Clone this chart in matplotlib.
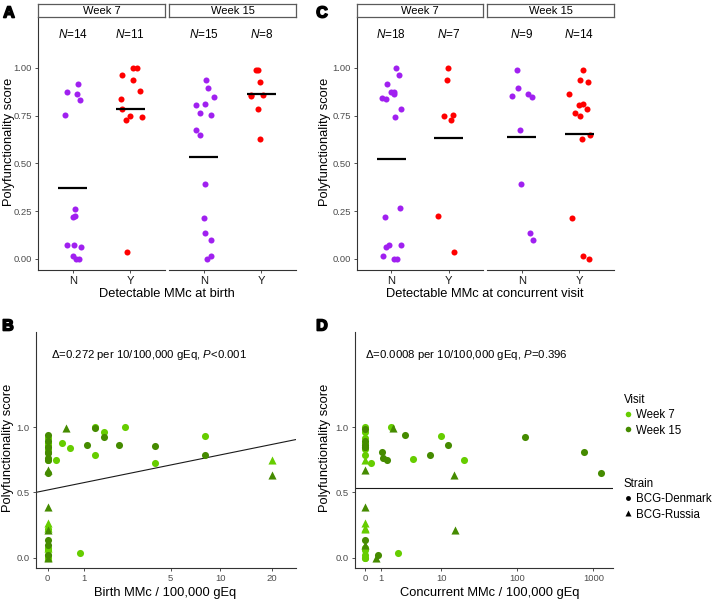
import numpy as np
import matplotlib
matplotlib.use('Agg')
import matplotlib.pyplot as plt
from matplotlib.lines import Line2D
import matplotlib.patheffects as pe

plt.rcParams['font.family'] = ['Liberation Sans', 'DejaVu Sans']
plt.rcParams['mathtext.fontset'] = 'custom'
plt.rcParams['mathtext.it'] = 'Liberation Sans:italic'
plt.rcParams['mathtext.rm'] = 'Liberation Sans'

# ---------------- data ----------------
categories = ['N', 'Y']
visits = ['Week 7', 'Week 15']

# Panel A (detectable MMc at birth): values and horizontal jitter offsets
a_w7_n_y = [0.916, 0.875, 0.864, 0.833, 0.751, 0.263, 0.225, 0.220, 0.071, 0.071, 0.061, 0.017, 0.002, 0.0]
a_w7_n_j = [0.087, -0.104, 0.069, 0.133, -0.127, 0.046, 0.040, 0.0, -0.104, 0.023, 0.139, 0.012, 0.064, 0.110]
a_w7_y_y = [1.0, 1.0, 0.962, 0.934, 0.876, 0.838, 0.784, 0.749, 0.744, 0.725, 0.035]
a_w7_y_j = [0.040, 0.110, -0.144, 0.052, 0.167, -0.156, -0.144, -0.012, 0.196, -0.069, -0.058]
a_w15_n_y = [0.936, 0.894, 0.848, 0.803, 0.812, 0.765, 0.751, 0.674, 0.650, 0.390, 0.213, 0.136, 0.098, 0.017, 0.0]
a_w15_n_j = [0.035, 0.081, 0.185, -0.127, 0.023, -0.069, 0.121, -0.139, -0.058, 0.023, 0.0, 0.029, 0.121, 0.133, 0.064]
a_w15_y_y = [0.990, 0.990, 0.923, 0.859, 0.850, 0.859, 0.782, 0.629]
a_w15_y_j = [-0.092, -0.058, -0.017, -0.185, -0.173, 0.029, -0.052, -0.017]

# Panel C (detectable MMc at concurrent visit)
c_w7_n_y = [1.0, 0.962, 0.916, 0.875, 0.875, 0.864, 0.840, 0.834, 0.784, 0.744, 0.265, 0.220, 0.071, 0.061, 0.071, 0.017, 0.0, 0.0]
c_w7_n_j = [0.087, 0.127, -0.075, -0.012, 0.040, 0.052, -0.156, -0.098, 0.162, 0.064, 0.150, -0.104, -0.035, -0.087, 0.167, -0.139, 0.046, 0.098]
c_w7_y_y = [1.0, 0.934, 0.749, 0.753, 0.725, 0.225, 0.035]
c_w7_y_j = [-0.017, -0.023, -0.081, 0.069, 0.046, -0.179, 0.092]
c_w15_n_y = [0.986, 0.895, 0.850, 0.861, 0.848, 0.672, 0.390, 0.134, 0.099]
c_w15_n_j = [-0.087, -0.058, -0.173, 0.110, 0.185, -0.029, -0.017, 0.139, 0.191]
c_w15_y_y = [0.990, 0.936, 0.923, 0.862, 0.812, 0.805, 0.784, 0.765, 0.749, 0.650, 0.629, 0.213, 0.017, 0.0]
c_w15_y_j = [0.058, 0.012, 0.144, -0.179, 0.058, -0.006, 0.139, -0.081, 0.017, 0.185, 0.052, -0.121, 0.058, 0.173]

# Panel B (birth MMc per 100,000 gEq)
b_w7_x = [0, 0, 0, 0, 0, 0, 0, 0, 0, 0, 0, 0, 0, 0,
          2.47, 1.35, 1.67, 8.08, 0.395, 0.605, 1.35, 0.223, 20, 3.96, 0.893]
b_w7_y = [0.916, 0.875, 0.864, 0.833, 0.751, 0.263, 0.225, 0.220, 0.071, 0.071, 0.061, 0.017, 0.002, 0.0,
          1.0, 1.0, 0.962, 0.934, 0.876, 0.838, 0.784, 0.749, 0.744, 0.725, 0.035]
b_w7_s = ['D', 'D', 'D', 'D', 'D', 'R', 'R', 'D', 'R', 'D', 'D', 'D', 'R', 'D',
          'D', 'D', 'D', 'D', 'D', 'D', 'D', 'D', 'R', 'D', 'D']
b_w15_x = [0, 0, 0, 0, 0, 0, 0, 0, 0, 0, 0, 0, 0, 0, 0,
           0.486, 1.35, 1.67, 1.10, 2.21, 3.96, 8.08, 20]
b_w15_y = [0.936, 0.894, 0.848, 0.803, 0.812, 0.765, 0.751, 0.674, 0.650, 0.390, 0.213, 0.136, 0.098, 0.017, 0.0,
           0.990, 0.990, 0.923, 0.865, 0.862, 0.855, 0.783, 0.629]
b_w15_s = ['D', 'D', 'D', 'D', 'D', 'D', 'D', 'R', 'D', 'R', 'R', 'D', 'D', 'D', 'R',
           'R', 'D', 'D', 'D', 'D', 'D', 'D', 'R']
b_intercept, b_slope = 0.518, 0.1162   # fitted line (on pseudo-log axis)
b_xticks = [0, 1, 5, 10, 20]

# Panel D (concurrent MMc per 100,000 gEq)
d_w7_x = [0] * 18 + [1.72, 9.95, 4.1, 19.8, 0.365, 0.03, 2.3]
d_w7_y = [1.0, 0.962, 0.916, 0.875, 0.875, 0.864, 0.840, 0.834, 0.784, 0.744, 0.265, 0.220, 0.071, 0.061, 0.071, 0.017, 0.0, 0.0,
          1.0, 0.934, 0.753, 0.749, 0.725, 0.225, 0.035]
d_w7_s = ['D', 'D', 'D', 'D', 'D', 'D', 'D', 'D', 'D', 'R', 'R', 'R', 'D', 'D', 'D', 'D', 'D', 'D',
          'D', 'D', 'D', 'D', 'D', 'R', 'D']
d_w15_x = [0] * 9 + [1.87, 3.05, 125.7, 12.3, 762, 1.05, 7.07, 1.17, 1.41, 1274, 14.6, 15.2, 0.78, 0.65]
d_w15_y = [0.986, 0.895, 0.850, 0.861, 0.848, 0.672, 0.390, 0.134, 0.099,
           0.990, 0.936, 0.923, 0.862, 0.812, 0.805, 0.784, 0.765, 0.749, 0.650, 0.629, 0.213, 0.017, 0.0]
d_w15_s = ['D', 'D', 'D', 'D', 'D', 'R', 'R', 'D', 'R',
           'R', 'D', 'D', 'D', 'D', 'D', 'D', 'D', 'D', 'D', 'R', 'R', 'D', 'R']
d_intercept, d_slope = 0.533, 0.0
d_xticks = [0, 1, 10, 100, 1000]

# ---------------- style ----------------
PURPLE = '#A020F0'
RED = '#FF0000'
LIGHT = '#66CD00'
DARK = '#458B00'
AXC = '#333333'
TICKC = '#4D4D4D'

W, H = 714, 602
fig = plt.figure(figsize=(W / 100, H / 100), dpi=100)


def rect(x0, y0, x1, y1):
    return [x0 / W, 1 - y1 / H, (x1 - x0) / W, (y1 - y0) / H]


def fx(x):
    return x / W


def fy(y):
    return 1 - y / H


def style_axes(ax, left=True):
    for s in ['top', 'right']:
        ax.spines[s].set_visible(False)
    ax.spines['left'].set_visible(left)
    for s in ['left', 'bottom']:
        ax.spines[s].set_color(AXC)
        ax.spines[s].set_linewidth(0.8)
    ax.tick_params(axis='both', direction='out', length=2.5, width=0.6, color=AXC,
                   labelsize=6.8, labelcolor=TICKC, pad=2)
    if not left:
        ax.tick_params(axis='y', left=False, labelleft=False)


def strip_facet(x0, x1, title, groups, left):
    ax = fig.add_axes(rect(x0, 17, x1, 270))
    ax.set_xlim(0.4, 2.6)
    ax.set_ylim(-0.0575, 1.265)
    for i, (vals, jit, color) in enumerate(groups):
        pos = i + 1
        ax.scatter(pos + np.array(jit), vals, s=19, color=color, linewidths=0, zorder=3)
        m = np.mean(vals)
        ax.plot([pos - 0.25, pos + 0.25], [m, m], color='black', lw=1.6, zorder=4,
                solid_capstyle='butt')
        ax.text(pos, 1.175, r'$N$=' + str(len(vals)), ha='center', va='center', fontsize=8.5)
    ax.set_xticks([1, 2])
    ax.set_xticklabels(categories)
    ax.set_yticks([0, 0.25, 0.5, 0.75, 1.0])
    ax.set_yticklabels(['0.00', '0.25', '0.50', '0.75', '1.00'])
    style_axes(ax, left)
    ax.tick_params(axis='x', labelsize=8, labelcolor='#1a1a1a')
    sax = fig.add_axes(rect(x0, 4, x1, 17))
    sax.set_xticks([])
    sax.set_yticks([])
    for s in sax.spines.values():
        s.set_color('#5a5a5a')
        s.set_linewidth(0.9)
    sax.text(0.5, 0.45, title, ha='center', va='center', fontsize=8, transform=sax.transAxes)
    return ax


# Panel A
strip_facet(38, 165, visits[0], [(a_w7_n_y, a_w7_n_j, PURPLE), (a_w7_y_y, a_w7_y_j, RED)], True)
strip_facet(169, 296, visits[1], [(a_w15_n_y, a_w15_n_j, PURPLE), (a_w15_y_y, a_w15_y_j, RED)], False)
# Panel C
strip_facet(357, 483, visits[0], [(c_w7_n_y, c_w7_n_j, PURPLE), (c_w7_y_y, c_w7_y_j, RED)], True)
strip_facet(487, 614, visits[1], [(c_w15_n_y, c_w15_n_j, PURPLE), (c_w15_y_y, c_w15_y_j, RED)], False)


def fwd(x):
    return np.arcsinh(np.asarray(x, dtype=float) / 2.0)


def inv(t):
    return 2.0 * np.sinh(np.asarray(t, dtype=float))


def scatter_panel(x0, x1, series, intercept, slope, tleft, tright, xticks, note, note_x):
    ax = fig.add_axes(rect(x0, 332, x1, 568))
    ax.set_xscale('function', functions=(fwd, inv))
    ax.set_xlim(inv(tleft), inv(tright))
    ax.set_ylim(-0.079, 1.727)
    for xs, ys, ss, color in series:
        xs = np.array(xs, dtype=float)
        ys = np.array(ys, dtype=float)
        ss = np.array(ss)
        circ = ss == 'D'
        ax.scatter(xs[circ], ys[circ], s=26, marker='o', color=color, linewidths=0, zorder=3)
        ax.scatter(xs[~circ], ys[~circ], s=34, marker='^', color=color, linewidths=0, zorder=3)
    t = np.linspace(tleft, tright, 200)
    ax.plot(inv(t), intercept + slope * t, color='#1a1a1a', lw=0.8, zorder=2)
    ax.set_xticks(xticks)
    ax.set_xticklabels([str(v) for v in xticks])
    ax.xaxis.set_minor_locator(matplotlib.ticker.NullLocator())
    ax.set_yticks([0, 0.5, 1.0])
    ax.set_yticklabels(['0.0', '0.5', '1.0'])
    style_axes(ax, True)
    fig.text(fx(note_x), fy(355), note, ha='left', va='center', fontsize=8.2)
    return ax


scatter_panel(36, 296, [(b_w7_x, b_w7_y, b_w7_s, LIGHT), (b_w15_x, b_w15_y, b_w15_s, DARK)],
              b_intercept, b_slope, -0.156, 3.323, b_xticks,
              r'Δ=0.272 per 10/100,000 gEq, $P$<0.001', 51)
scatter_panel(355, 613, [(d_w7_x, d_w7_y, d_w7_s, LIGHT), (d_w15_x, d_w15_y, d_w15_s, DARK)],
              d_intercept, d_slope, -0.302, 7.50, d_xticks,
              r'Δ=0.0008 per 10/100,000 gEq, $P$=0.396', 365)

# axis titles
TITLE_FS = 9.3
fig.text(fx(9), fy(142), 'Polyfunctionality score', rotation=90, ha='center', va='center', fontsize=TITLE_FS)
fig.text(fx(325), fy(142), 'Polyfunctionality score', rotation=90, ha='center', va='center', fontsize=TITLE_FS)
fig.text(fx(8), fy(448), 'Polyfunctionality score', rotation=90, ha='center', va='center', fontsize=TITLE_FS)
fig.text(fx(325), fy(448), 'Polyfunctionality score', rotation=90, ha='center', va='center', fontsize=TITLE_FS)
fig.text(fx(167), fy(294), 'Detectable MMc at birth', ha='center', va='center', fontsize=TITLE_FS)
fig.text(fx(485), fy(294), 'Detectable MMc at concurrent visit', ha='center', va='center', fontsize=TITLE_FS)
fig.text(fx(165), fy(593), 'Birth MMc / 100,000 gEq', ha='center', va='center', fontsize=TITLE_FS)
fig.text(fx(490), fy(593), 'Concurrent MMc / 100,000 gEq', ha='center', va='center', fontsize=TITLE_FS)

# panel letters
for lab, (px, py) in {'A': (9, 13), 'C': (322, 13), 'B': (8, 326), 'D': (322, 326)}.items():
    fig.text(fx(px), fy(py), lab, ha='center', va='center', fontsize=11.5, fontweight='bold',
             path_effects=[pe.withStroke(linewidth=1.2, foreground='black')])

# legends
LEG_FS = 8.3
vis_handles = [Line2D([], [], ls='none', marker='o', ms=4, color=LIGHT, mec='none'),
               Line2D([], [], ls='none', marker='o', ms=4, color=DARK, mec='none')]
leg1 = fig.legend(vis_handles, visits, title='Visit', loc='upper left',
                  bbox_to_anchor=(fx(619), fy(389)), frameon=False, fontsize=LEG_FS, title_fontsize=LEG_FS,
                  handlelength=0.8, handletextpad=0.3, labelspacing=0.3, borderaxespad=0,
                  alignment='left')
str_handles = [Line2D([], [], ls='none', marker='o', ms=3.5, color='black', mec='none'),
               Line2D([], [], ls='none', marker='^', ms=4, color='black', mec='none')]
leg2 = fig.legend(str_handles, ['BCG-Denmark', 'BCG-Russia'], title='Strain', loc='upper left',
                  bbox_to_anchor=(fx(619), fy(473)), frameon=False, fontsize=LEG_FS, title_fontsize=LEG_FS,
                  handlelength=0.8, handletextpad=0.3, labelspacing=0.3, borderaxespad=0,
                  alignment='left')

fig.savefig('out.png', dpi=100)
